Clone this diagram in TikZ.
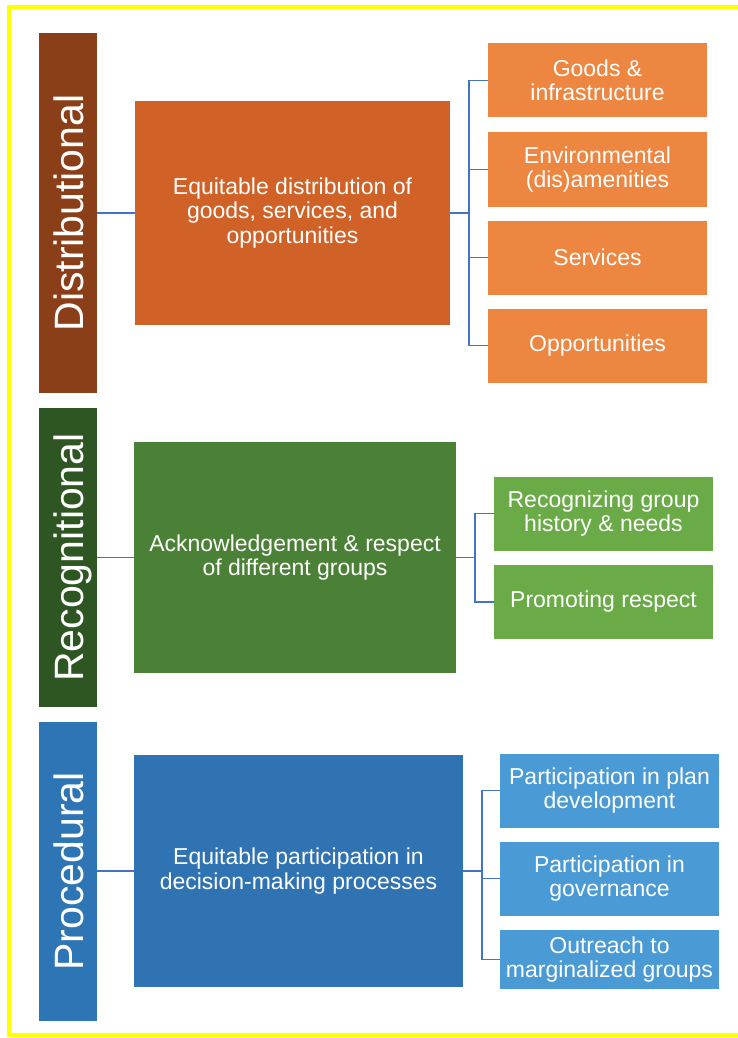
\documentclass[tikz,border=0pt]{standalone}
\usepackage{fontspec}
\setmainfont{Liberation Sans}
\begin{document}
\begin{tikzpicture}[x=1pt,y=-1pt,
  box/.style={rectangle,inner sep=0pt,outer sep=0pt,text=white,align=center,
    font=\fontsize{23}{24.5}\selectfont},
  bar/.style={rectangle,inner sep=0pt,outer sep=0pt,text=white,rotate=90,
    minimum height=58pt,text height=30pt,text depth=0pt,
    font=\fontsize{41}{49}\selectfont},
  sub/.style={box,minimum width=219pt,minimum height=74pt},
  link/.style={draw=linkblue,line width=1.1pt}]
\definecolor{brownbar}{RGB}{139,63,24}
\definecolor{orangemain}{RGB}{208,98,40}
\definecolor{orangesub}{RGB}{237,134,65}
\definecolor{greenbar}{RGB}{46,86,34}
\definecolor{greenmain}{RGB}{75,129,54}
\definecolor{greensub}{RGB}{106,171,71}
\definecolor{bluebar}{RGB}{46,117,182}
\definecolor{bluemain}{RGB}{48,115,179}
\definecolor{bluesub}{RGB}{74,154,213}
\definecolor{linkblue}{RGB}{68,114,196}
\definecolor{frameyellow}{RGB}{255,255,0}

\useasboundingbox (0,0) rectangle (738,1038);
\fill[white] (0,0) rectangle (738,1038);
\draw[frameyellow,line width=3.5pt] (738,7) -- (9,7) -- (9,1035) -- (738,1035);

% Distributional
\node[bar,fill=brownbar,minimum width=360pt] (db) at (68,213) {Distributional};
\node[box,fill=orangemain,minimum width=315pt,minimum height=224pt] (dm) at (292.5,213)
  {Equitable distribution of\\goods, services, and\\opportunities};
\node[sub,fill=orangesub] (d1) at (597.5,80.5) {Goods \&\\infrastructure};
\node[sub,fill=orangesub] (d2) at (597.5,169.5) {Environmental\\(dis)amenities};
\node[sub,fill=orangesub] (d3) at (597.5,257.5) {Services};
\node[sub,fill=orangesub] (d4) at (597.5,345.5) {Opportunities};
\coordinate (dt) at (469,213);
\draw[link] (db.south |- dm.west) -- (dm.west);
\draw[link] (dm.east) -- (dt);
\draw[link] (d1.west) -| (dt) |- (d4.west);
\draw[link] (dt |- d2.west) -- (d2.west);
\draw[link] (dt |- d3.west) -- (d3.west);

% Recognitional
\node[bar,fill=greenbar,minimum width=299pt] (rb) at (68,557.5) {Recognitional};
\node[box,fill=greenmain,minimum width=322pt,minimum height=231pt] (rm) at (295,557.5)
  {Acknowledgement \& respect\\of different groups};
\node[sub,fill=greensub] (r1) at (603.5,513.5) {Recognizing group\\history \& needs};
\node[sub,fill=greensub] (r2) at (603.5,602) {Promoting respect};
\coordinate (rt) at (475,557.5);
\draw[link] (rb.south |- rm.west) -- (rm.west);
\draw[link] (rm.east) -- (rt);
\draw[link] (r1.west) -| (rt) |- (r2.west);

% Procedural
\node[bar,fill=bluebar,minimum width=299pt] (pb) at (68,871.5) {Procedural};
\node[box,fill=bluemain,minimum width=329pt,minimum height=232pt] (pm) at (298.5,871)
  {Equitable participation in\\decision-making processes};
\node[sub,fill=bluesub] (p1) at (609.5,790.5) {Participation in plan\\development};
\node[sub,fill=bluesub] (p2) at (609.5,878.5) {Participation in\\governance};
\node[sub,fill=bluesub,minimum height=59pt] (p3) at (609.5,959.5) {Outreach to\\marginalized groups};
\coordinate (pt) at (482,871);
\draw[link] (pb.south |- pm.west) -- (pm.west);
\draw[link] (pm.east) -- (pt);
\draw[link] (p1.west) -| (pt) |- (p3.west);
\draw[link] (pt |- p2.west) -- (p2.west);
\end{tikzpicture}
\end{document}
